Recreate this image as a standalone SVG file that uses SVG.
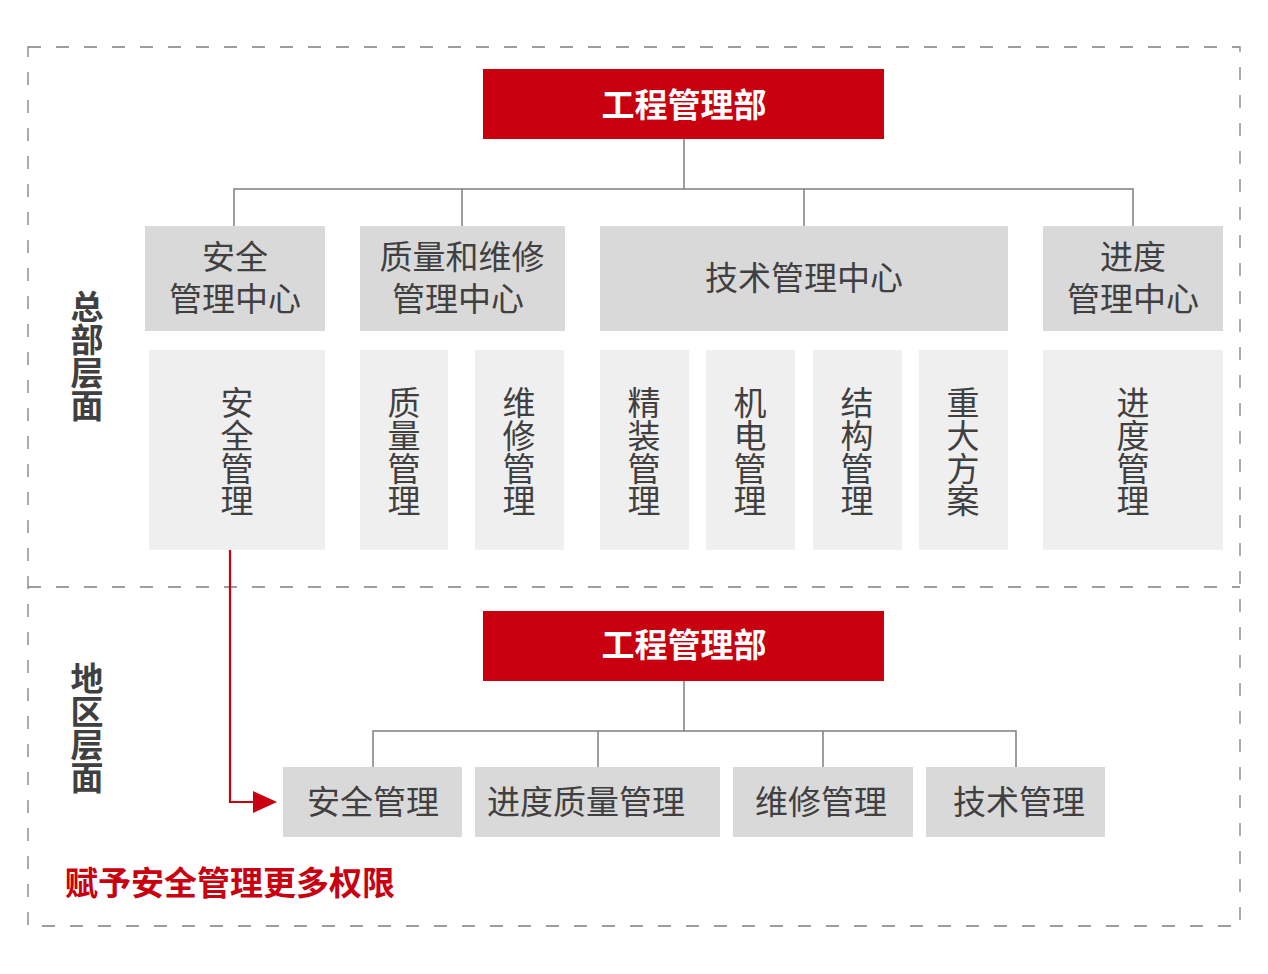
<svg xmlns="http://www.w3.org/2000/svg" width="1268" height="974" viewBox="0 0 1268 974">
<style>
.frame{fill:none;stroke:#7f7f7f;stroke-width:1.3;stroke-dasharray:13 15}
.red{fill:#c8000f}
.g1{fill:#d9d9d9}
.g2{fill:#efefef}
.t{font-family:"Noto Sans CJK SC","Noto Sans CJK JP",sans-serif;font-size:33px;fill:#404040;text-anchor:middle;dominant-baseline:central}
.tw{font-family:"Noto Sans CJK SC","Noto Sans CJK JP",sans-serif;font-size:33px;font-weight:bold;fill:#ffffff;text-anchor:middle;dominant-baseline:central}
.tb{font-family:"Noto Sans CJK SC","Noto Sans CJK JP",sans-serif;font-size:33px;font-weight:bold;fill:#404040;text-anchor:middle;dominant-baseline:central}
.tr{font-family:"Noto Sans CJK SC","Noto Sans CJK JP",sans-serif;font-size:33px;font-weight:bold;fill:#c8000f;dominant-baseline:central}
.ln{fill:none;stroke:#7f7f7f;stroke-width:1.5}
</style>
<rect width="1268" height="974" fill="#ffffff"/>
<g id="frame">
<rect class="frame" x="28" y="47" width="1212" height="879"/>
<line class="frame" x1="28" y1="587" x2="1240" y2="587"/>
</g>
<g id="label-hq"><text class="tb"><tspan x="87" y="305">总</tspan><tspan x="87" y="338">部</tspan><tspan x="87" y="371">层</tspan><tspan x="87" y="404">面</tspan></text></g>
<g id="label-region"><text class="tb"><tspan x="87" y="677">地</tspan><tspan x="87" y="710">区</tspan><tspan x="87" y="743">层</tspan><tspan x="87" y="776">面</tspan></text></g>
<g id="connectors">
<path class="ln" d="M684,139 V189 M234,226 V189 H1133 V226 M462,189 V226 M804,189 V226"/>
<path class="ln" d="M684,681 V731 M373,767 V731 H1016 V767 M598,731 V767 M823,731 V767"/>
<path d="M230,550 V802 H255" fill="none" stroke="#c8000f" stroke-width="2.2"/>
<path d="M253,791 L277,802 L253,813 z" fill="#c8000f"/>
</g>
<g id="hq-top"><rect class="red" x="483" y="69" width="401" height="70"/><text class="tw" x="684" y="103">工程管理部</text></g>
<g id="c-safety"><rect class="g1" x="145" y="226" width="180" height="105"/><text class="t"><tspan x="235" y="255">安全</tspan><tspan x="235" y="297">管理中心</tspan></text></g>
<g id="c-quality"><rect class="g1" x="360" y="226" width="205" height="105"/><text class="t"><tspan x="462" y="255">质量和维修</tspan><tspan x="458" y="297">管理中心</tspan></text></g>
<g id="c-tech"><rect class="g1" x="600" y="226" width="408" height="105"/><text class="t" x="804" y="276">技术管理中心</text></g>
<g id="c-progress"><rect class="g1" x="1043" y="226" width="180" height="105"/><text class="t"><tspan x="1133" y="255">进度</tspan><tspan x="1133" y="297">管理中心</tspan></text></g>
<g id="s-safety"><rect class="g2" x="149" y="350" width="176" height="200"/><text class="t"><tspan x="237" y="401">安</tspan><tspan x="237" y="434">全</tspan><tspan x="237" y="467">管</tspan><tspan x="237" y="499">理</tspan></text></g>
<g id="s-quality"><rect class="g2" x="360" y="350" width="88" height="200"/><text class="t"><tspan x="404" y="401">质</tspan><tspan x="404" y="434">量</tspan><tspan x="404" y="467">管</tspan><tspan x="404" y="499">理</tspan></text></g>
<g id="s-repair"><rect class="g2" x="475" y="350" width="89" height="200"/><text class="t"><tspan x="519" y="401">维</tspan><tspan x="519" y="434">修</tspan><tspan x="519" y="467">管</tspan><tspan x="519" y="499">理</tspan></text></g>
<g id="s-finish"><rect class="g2" x="600" y="350" width="89" height="200"/><text class="t"><tspan x="644" y="401">精</tspan><tspan x="644" y="434">装</tspan><tspan x="644" y="467">管</tspan><tspan x="644" y="499">理</tspan></text></g>
<g id="s-mep"><rect class="g2" x="706" y="350" width="89" height="200"/><text class="t"><tspan x="750" y="401">机</tspan><tspan x="750" y="434">电</tspan><tspan x="750" y="467">管</tspan><tspan x="750" y="499">理</tspan></text></g>
<g id="s-struct"><rect class="g2" x="813" y="350" width="89" height="200"/><text class="t"><tspan x="857" y="401">结</tspan><tspan x="857" y="434">构</tspan><tspan x="857" y="467">管</tspan><tspan x="857" y="499">理</tspan></text></g>
<g id="s-plan"><rect class="g2" x="919" y="350" width="89" height="200"/><text class="t"><tspan x="963" y="401">重</tspan><tspan x="963" y="434">大</tspan><tspan x="963" y="467">方</tspan><tspan x="963" y="499">案</tspan></text></g>
<g id="s-progress"><rect class="g2" x="1043" y="350" width="180" height="200"/><text class="t"><tspan x="1133" y="401">进</tspan><tspan x="1133" y="434">度</tspan><tspan x="1133" y="467">管</tspan><tspan x="1133" y="499">理</tspan></text></g>
<g id="hq-region"><rect class="red" x="483" y="611" width="401" height="70"/><text class="tw" x="684" y="643">工程管理部</text></g>
<g id="r-safety"><rect class="g1" x="283" y="767" width="179" height="70"/><text class="t" x="373" y="800">安全管理</text></g>
<g id="r-progress"><rect class="g1" x="475" y="767" width="245" height="70"/><text class="t" x="586" y="800">进度质量管理</text></g>
<g id="r-repair"><rect class="g1" x="733" y="767" width="180" height="70"/><text class="t" x="821" y="800">维修管理</text></g>
<g id="r-tech"><rect class="g1" x="926" y="767" width="179" height="70"/><text class="t" x="1019" y="800">技术管理</text></g>
<g id="note"><text class="tr" x="65" y="881">赋予安全管理更多权限</text></g>
</svg>
